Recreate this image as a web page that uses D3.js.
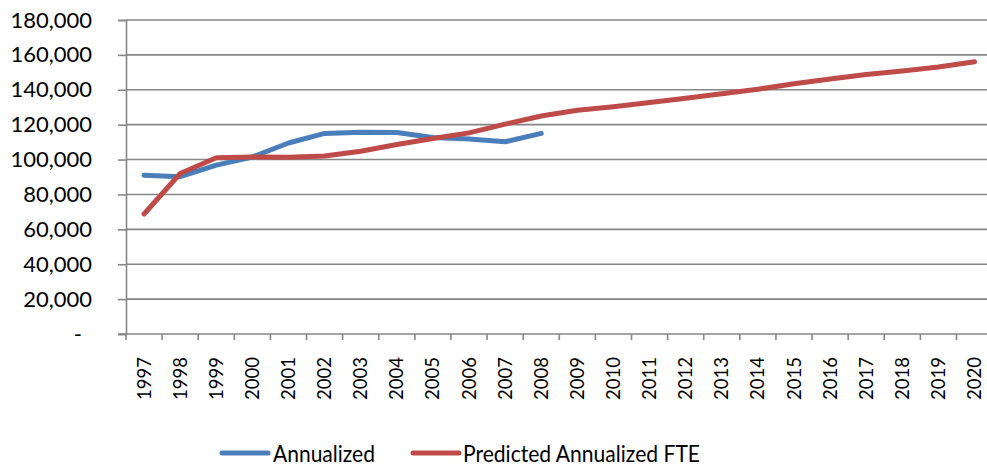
<!DOCTYPE html>
<html>
<head>
<meta charset="utf-8">
<script src="https://cdn.jsdelivr.net/npm/d3@7"></script>
<style>
  html, body { margin: 0; padding: 0; background: #fff; }
  svg { display: block; font-family: Lato, "Open Sans", sans-serif; }
</style>
</head>
<body>
<svg id="chart" width="987" height="466"></svg>
<script>
// Categories and series
const years = ["1997","1998","1999","2000","2001","2002","2003","2004","2005","2006","2007","2008",
               "2009","2010","2011","2012","2013","2014","2015","2016","2017","2018","2019","2020"];
const annualized = [91000, 90200, 96800, 101500, 109500, 115000, 115600, 115500, 112600, 111800, 110200, 115000];
const predicted = [68800, 92000, 101000, 101500, 101300, 102000, 104800, 108600, 112100, 115300, 120300, 125000,
                   128300, 130300, 132700, 135200, 137700, 140300, 143400, 146200, 148700, 150800, 153100, 156100];
const yTicks = [0, 20000, 40000, 60000, 80000, 100000, 120000, 140000, 160000, 180000];
const seriesNames = ["Annualized", "Predicted Annualized FTE"];
const seriesColors = ["#4a7ebb", "#be4b48"];

const svg = d3.select("#chart");
const plotLeft = 126, plotRight = 992.6, plotTop = 20, plotBottom = 334;

const x = d3.scaleBand().domain(years).range([plotLeft, plotRight]);
const cx = d => x(d) + x.bandwidth() / 2;
const y = d3.scaleLinear().domain([0, 180000]).range([plotBottom, plotTop]);

const axisColor = "#868686";

// Horizontal gridlines
svg.append("g")
  .selectAll("line")
  .data(yTicks.filter(v => v > 0))
  .join("line")
  .attr("x1", plotLeft).attr("x2", 987)
  .attr("y1", d => y(d)).attr("y2", d => y(d))
  .attr("stroke", axisColor).attr("stroke-width", 1.6);

// Y axis with outward ticks (accounting-style dash for zero)
const yAxis = d3.axisLeft(y).tickValues(yTicks).tickSize(8).tickPadding(26)
  .tickFormat(d => d === 0 ? "-" : d3.format(",")(d));
const gy = svg.append("g").attr("transform", `translate(${plotLeft},0)`).call(yAxis);
gy.select(".domain").attr("stroke", axisColor).attr("stroke-width", 1.6);
gy.selectAll(".tick line").attr("stroke", axisColor).attr("stroke-width", 1.6);
gy.selectAll(".tick text").attr("fill", "#000").attr("font-size", 22)
  .attr("font-family", "Lato, sans-serif")
  .attr("dx", d => d === 0 ? -10 : 0);

// X axis: ticks between categories, rotated year labels
const gx = svg.append("g");
gx.append("line").attr("x1", plotLeft - 8).attr("x2", 987).attr("y1", plotBottom).attr("y2", plotBottom)
  .attr("stroke", axisColor).attr("stroke-width", 1.6);
gx.selectAll("line.tk")
  .data(years.map(d => x(d)).concat([plotRight]))
  .join("line").attr("class", "tk")
  .attr("x1", d => d).attr("x2", d => d)
  .attr("y1", plotBottom).attr("y2", plotBottom + 6)
  .attr("stroke", axisColor).attr("stroke-width", 1.6);
gx.selectAll("text")
  .data(years)
  .join("text")
  .attr("transform", d => `translate(${cx(d) + 6.5},357) rotate(-90)`)
  .attr("text-anchor", "end")
  .attr("font-size", 18.5)
  .attr("fill", "#000")
  .text(d => d);

// Series lines
const line = d3.line().x((d, i) => cx(years[i])).y(d => y(d));
[annualized, predicted].forEach((vals, i) => {
  svg.append("path")
    .datum(vals)
    .attr("d", line)
    .attr("fill", "none")
    .attr("stroke", seriesColors[i])
    .attr("stroke-width", 5)
    .attr("stroke-linejoin", "round")
    .attr("stroke-linecap", "round");
});

// Legend
const legendItems = [{x: 222, tx: 273, w: 102}, {x: 413, tx: 463, w: 237}];
seriesNames.forEach((name, i) => {
  const g = svg.append("g");
  g.append("line")
    .attr("x1", legendItems[i].x).attr("x2", legendItems[i].x + 46)
    .attr("y1", 453).attr("y2", 453)
    .attr("stroke", seriesColors[i]).attr("stroke-width", 5)
    .attr("stroke-linecap", "round");
  g.append("text")
    .attr("x", legendItems[i].tx).attr("y", 461.5)
    .attr("font-size", 23).attr("fill", "#000")
    .attr("textLength", legendItems[i].w)
    .attr("lengthAdjust", "spacingAndGlyphs")
    .text(name);
});
</script>
</body>
</html>
